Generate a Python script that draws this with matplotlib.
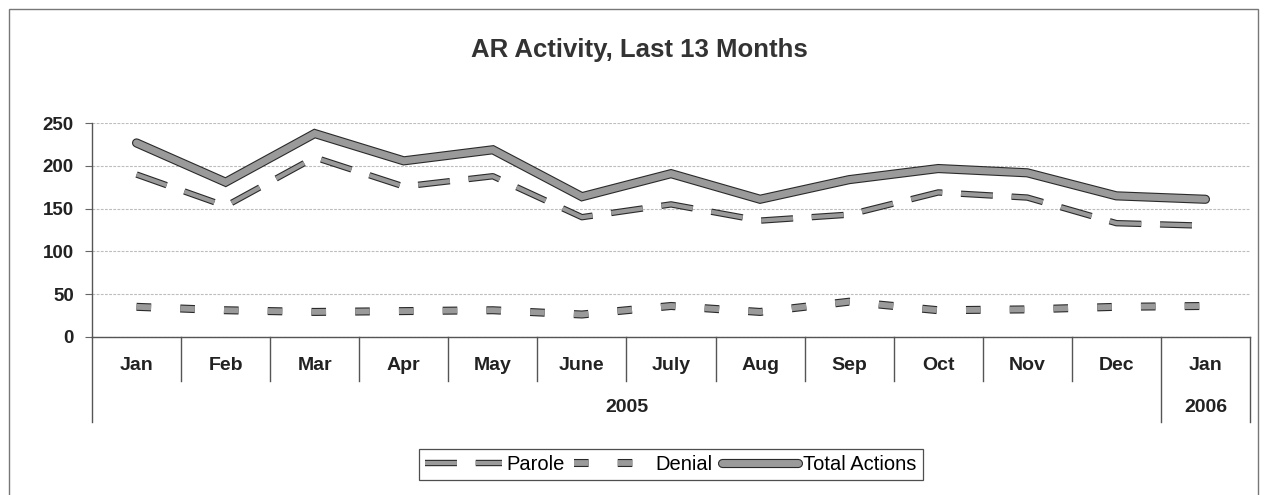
import matplotlib
matplotlib.use("Agg")
import matplotlib.pyplot as plt
import matplotlib.patheffects as pe
from matplotlib.lines import Line2D
import matplotlib.transforms as mtransforms
from matplotlib.patches import Rectangle

plt.rcParams['font.family'] = ['Liberation Sans', 'DejaVu Sans']
plt.rcParams['lines.scale_dashes'] = False

months = ["Jan", "Feb", "Mar", "Apr", "May", "June", "July", "Aug", "Sep", "Oct", "Nov", "Dec", "Jan"]
years = ["2005", "2006"]
year_spans = [12, 1]
parole = [190, 153, 210, 176, 188, 140, 155, 136, 143, 169, 163, 133, 130]
denial = [35, 31, 29, 30, 31, 26, 36, 29, 41, 31, 32, 35, 36]
total = [227, 181, 238, 206, 219, 164, 191, 161, 184, 197, 192, 165, 161]
yticks = [0, 50, 100, 150, 200, 250]
title = "AR Activity, Last 13 Months"

W, H = 1267, 495
fig = plt.figure(figsize=(W / 100, H / 100), dpi=100)
ax = fig.add_axes([92 / W, 1 - 336.7 / H, (1250 - 92) / W, (336.7 - 123.3) / H])

n = len(months)
xs = [i + 0.5 for i in range(n)]
fill = '#9a9a9a'
edge = '#2a2a2a'

def fx(lw):
    return [pe.Stroke(linewidth=lw + 1.6, foreground=edge), pe.Normal()]

lp, = ax.plot(xs, parole, color=fill, lw=3.0, dashes=(23, 13.5), dash_capstyle='butt',
              path_effects=fx(3.0), label='Parole', zorder=3)
ld, = ax.plot(xs, denial, color=fill, lw=4.2, dashes=(10.5, 21), dash_capstyle='butt',
              path_effects=fx(4.2), label='Denial', zorder=3)
lt, = ax.plot(xs, total, color=fill, lw=5.0, solid_capstyle='round', solid_joinstyle='miter',
              path_effects=fx(5.0), label='Total Actions', zorder=4)

ax.set_xlim(0, n)
ax.set_ylim(0, 250)
ax.set_yticks(yticks)
ax.set_yticklabels([str(v) for v in yticks], fontsize=13.5, fontweight='bold', color='#222')
ax.tick_params(axis='y', length=5, width=0.8, color='#666', pad=8)
ax.set_xticks([])
ax.yaxis.grid(True, color='#bdbdbd', lw=0.8, ls=(0, (2, 1)))
ax.set_axisbelow(True)
for s in ['top', 'right']:
    ax.spines[s].set_visible(False)
ax.spines['left'].set_color('#555')
ax.spines['bottom'].set_color('#555')
ax.spines['left'].set_linewidth(1.0)
ax.spines['bottom'].set_linewidth(1.0)

trans = mtransforms.blended_transform_factory(ax.transData, ax.transAxes)
y_month = -0.2076
y_year = -0.40
# separators
for i in range(1, n):
    low = y_year if i == n - 1 else y_month
    ax.add_line(Line2D([i, i], [0, low], transform=trans, color='#555', lw=1.0, clip_on=False))
ax.add_line(Line2D([0, 0], [0, y_year], transform=trans, color='#555', lw=1.0, clip_on=False))
ax.add_line(Line2D([n, n], [0, y_year], transform=trans, color='#555', lw=1.0, clip_on=False))

for x, m in zip(xs, months):
    ax.text(x, -0.134, m, transform=trans, ha='center', va='center', fontsize=14,
            fontweight='bold', color='#222')
start = 0
for yr, span in zip(years, year_spans):
    ax.text(start + span / 2, -0.334, yr, transform=trans, ha='center', va='center',
            fontsize=14, fontweight='bold', color='#222')
    start += span

fig.text(639 / W, 1 - 50 / H, title, ha='center', va='center', fontsize=18.5,
         fontweight='bold', color='#333')

leg = fig.legend(handles=[lp, ld, lt], loc='center', bbox_to_anchor=(671 / W, 1 - 464.5 / H),
                 ncol=3, fontsize=14.5, handlelength=3.8, handletextpad=0.25, columnspacing=0.45,
                 frameon=True, fancybox=False, borderpad=0.3, borderaxespad=0)
leg.get_frame().set_edgecolor('#222')
leg.get_frame().set_linewidth(0.9)

# outer border
fig.patches.append(Rectangle((9 / W, -0.05), (1258 - 9) / W, 1 - 9 / H + 0.05,
                             transform=fig.transFigure, fill=False, edgecolor='#777', lw=1.0))

fig.savefig("out.png", dpi=100, facecolor='white')
